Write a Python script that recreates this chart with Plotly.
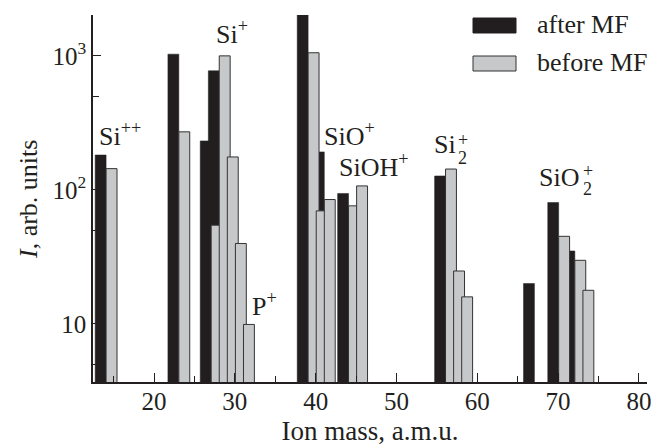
import plotly.graph_objects as go

# Ion masses (a.m.u.) and intensities (arb. units)
after_mass = [14, 23, 27, 28, 39, 41, 44, 56, 67, 70, 72]
after_int = [182, 1030, 232, 774, 2050, 192, 94, 127, 20, 80.5, 35]

before_mass = [14, 23, 27, 28, 29, 30, 31, 39, 40, 41, 44, 45, 56, 57, 58, 70, 72, 73]
before_int = [144, 271, 54.5, 1000, 176, 39.8, 9.9, 1055, 69.7, 84.7, 76, 107, 143, 24.8, 15.9, 45, 29.8, 17.8]

y_tickvals = [10, 100, 1000]
y_ticktext = ["10", "10<sup>2</sup>", "10<sup>3</sup>"]
y_minorvals = [5, 50, 500]

FONT = "Liberation Serif"
INK = "#231f20"
BLACK = "#221e1f"
GRAY = "#c7c8ca"
W = 1.35

fig = go.Figure()
fig.add_trace(go.Bar(x=after_mass, y=after_int, width=W, offset=0.07 - W,
                     marker=dict(color=BLACK, line=dict(color=BLACK, width=0.5)),
                     name="after MF", showlegend=False))
fig.add_trace(go.Bar(x=before_mass, y=before_int, width=W, offset=0.07,
                     marker=dict(color=GRAY, line=dict(color="#333333", width=1)),
                     name="before MF", showlegend=False))

# plot area in page pixels (page has an 8px body margin)
PAGE_OFF = 8
L, T, PW, PH = 93, 15, 554, 367
FW, FH = 663 - PAGE_OFF, 446 - PAGE_OFF


def px(x):
    return (x - L) / PW


def py(y):
    return (T + PH - y) / PH


ann = []


def label(text, x, y, size=26, anchor="left", yanchor="bottom"):
    ann.append(dict(text=text, x=px(x), y=py(y), xref="paper", yref="paper",
                    xanchor=anchor, yanchor=yanchor, showarrow=False,
                    font=dict(family=FONT, size=size, color=INK)))


label("Si<sup>++</sup>", 97, 153)
label("Si<sup>+</sup>", 214, 51)
label("P<sup>+</sup>", 250, 323)
label("SiO<sup>+</sup>", 322, 153)
label("SiOH<sup>+</sup>", 337, 184)
label("Si", 432, 161)
label("2", 456, 158, size=18, yanchor="middle")
label("+", 456, 140, size=18, yanchor="middle")
label("SiO", 537, 194)
label("2", 581, 189, size=18, yanchor="middle")
label("+", 581, 171, size=18, yanchor="middle")

# legend
label("after MF", 535, 24, yanchor="middle")
label("before MF", 535, 62, yanchor="middle")
shapes = [
    dict(type="rect", xref="paper", yref="paper", x0=px(473), x1=px(516), y0=py(18), y1=py(33),
         fillcolor=BLACK, line=dict(color=BLACK, width=1)),
    dict(type="rect", xref="paper", yref="paper", x0=px(473), x1=px(516), y0=py(56), y1=py(71),
         fillcolor=GRAY, line=dict(color="#333333", width=1)),
]

# y title
ann.append(dict(text="<i>I</i>, arb. units", x=px(28), y=py(200), xref="paper", yref="paper",
                textangle=-90, showarrow=False, xanchor="center", yanchor="middle",
                font=dict(family=FONT, size=26, color=INK)))

fig.update_layout(
    width=FW, height=FH,
    margin=dict(l=L - PAGE_OFF, r=FW - (L - PAGE_OFF) - PW, t=T - PAGE_OFF,
                b=FH - (T - PAGE_OFF) - PH, autoexpand=False),
    paper_bgcolor="white", plot_bgcolor="white",
    barmode="overlay",
    font=dict(family=FONT, size=25, color=INK),
    annotations=ann, shapes=shapes,
    xaxis=dict(range=[12.45, 81.0], showgrid=False, zeroline=False,
               showline=True, linecolor=INK, linewidth=1.5,
               ticks="inside", ticklen=9, tickcolor=INK, tickwidth=1,
               tick0=0, dtick=10, ticklabelstandoff=-4,
               minor=dict(dtick=5, tick0=0, ticks="inside", ticklen=6, tickcolor=INK),
               tickfont=dict(family=FONT, size=25, color=INK),
               title=dict(text="Ion mass, a.m.u.", font=dict(family=FONT, size=27, color=INK), standoff=10)),
    yaxis=dict(type="log", range=[0.566, 3.305], showgrid=False, zeroline=False,
               showline=True, linecolor=INK, linewidth=1.5,
               ticks="inside", ticklen=8, tickcolor=INK, tickwidth=1,
               tickmode="array", tickvals=y_tickvals, ticktext=y_ticktext,
               minor=dict(tickmode="array", tickvals=y_minorvals, ticks="inside", ticklen=6, tickcolor=INK),
               tickfont=dict(family=FONT, size=25, color=INK)),
)

fig.write_html("out.html")
